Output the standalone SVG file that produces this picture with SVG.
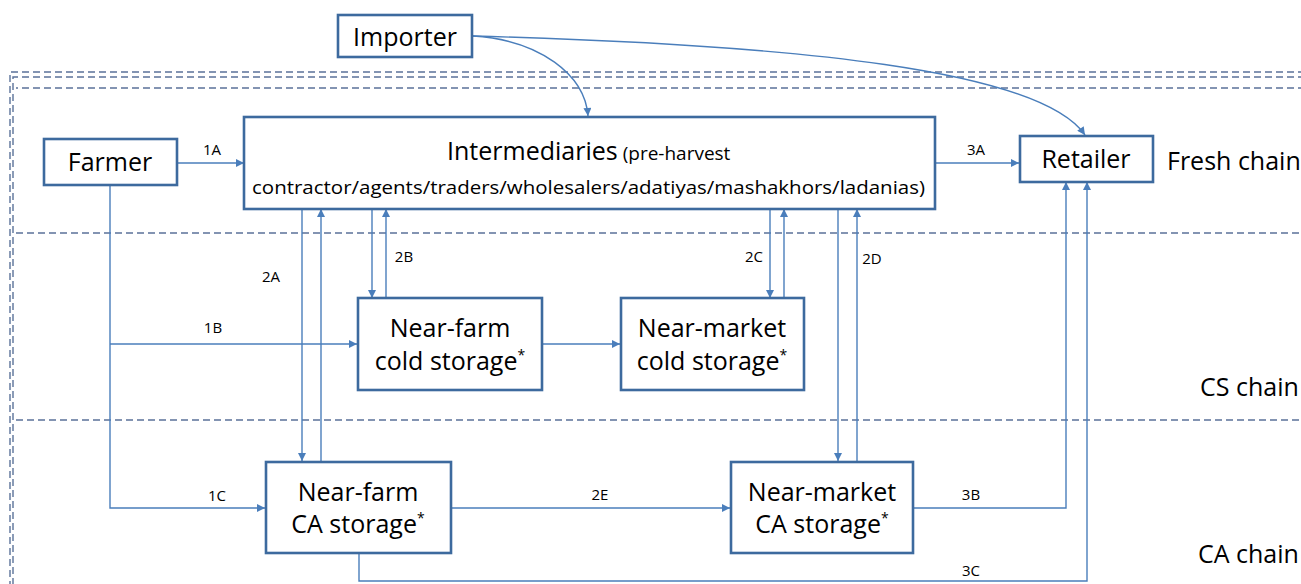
<svg xmlns="http://www.w3.org/2000/svg" width="1301" height="584" viewBox="0 0 1301 584">
  <defs>
    <marker id="arr" viewBox="0 0 10 10" refX="10" refY="5" markerWidth="9" markerHeight="8" markerUnits="userSpaceOnUse" orient="auto">
      <path d="M0,0 L10,5 L0,10 z" fill="#4a7ebb"/>
    </marker>
    <style>
      .box { fill: #ffffff; stroke: #3d6a9e; stroke-width: 2.6; }
      .conn { fill: none; stroke: #4a7ebb; stroke-width: 1.4; }
      .zone { fill: none; stroke: #5b7299; stroke-width: 1.4; stroke-dasharray: 7 4; }
      .lbl { font-family: "Open Sans", "Liberation Sans", sans-serif; fill: #000; }
      .node { font-size: 25px; text-anchor: middle; }
      .edge { font-size: 15px; text-anchor: middle; }
      .chain { font-size: 25px; }
      .sup { font-size: 14px; }
    </style>
  </defs>
  <rect width="1301" height="584" fill="#ffffff"/>

  <!-- chain zones -->
  <g id="zones">
    <path class="zone" d="M1305,72 H10 V590"/>
    <path class="zone" d="M1305,77 H13 V590"/>
    <path class="zone" d="M1305,88 H16"/>
    <path class="zone" d="M16,233 H1305"/>
    <path class="zone" d="M16,420 H1305"/>
    <text class="lbl chain" x="1167" y="170">Fresh chain</text>
    <text class="lbl chain" x="1200" y="396">CS chain</text>
    <text class="lbl chain" x="1198" y="563">CA chain</text>
  </g>

  <!-- connectors -->
  <g id="connectors">
    <path class="conn" d="M473,36 C540,40 585,75 588,116" marker-end="url(#arr)"/>
    <path class="conn" d="M473,36 C800,45 1040,70 1085,135" marker-end="url(#arr)"/>
    <path class="conn" d="M177,163 H244" marker-end="url(#arr)"/>
    <path class="conn" d="M935,163 H1019" marker-end="url(#arr)"/>
    <path class="conn" d="M302,209 V461" marker-end="url(#arr)"/>
    <path class="conn" d="M321,461 V209" marker-end="url(#arr)"/>
    <path class="conn" d="M372,209 V298" marker-end="url(#arr)"/>
    <path class="conn" d="M386,298 V209" marker-end="url(#arr)"/>
    <path class="conn" d="M770,209 V298" marker-end="url(#arr)"/>
    <path class="conn" d="M784,298 V209" marker-end="url(#arr)"/>
    <path class="conn" d="M838,209 V461" marker-end="url(#arr)"/>
    <path class="conn" d="M857,461 V209" marker-end="url(#arr)"/>
    <path class="conn" d="M110,185 V508 H265" marker-end="url(#arr)"/>
    <path class="conn" d="M110,344 H357" marker-end="url(#arr)"/>
    <path class="conn" d="M542,344 H620" marker-end="url(#arr)"/>
    <path class="conn" d="M451,508 H730" marker-end="url(#arr)"/>
    <path class="conn" d="M913,508 H1066 V182" marker-end="url(#arr)"/>
    <path class="conn" d="M359,553 V581 H1087 V182" marker-end="url(#arr)"/>
    <text class="lbl edge" x="212" y="155">1A</text>
    <text class="lbl edge" x="976" y="155">3A</text>
    <text class="lbl edge" x="271" y="282">2A</text>
    <text class="lbl edge" x="404" y="262">2B</text>
    <text class="lbl edge" x="754" y="262">2C</text>
    <text class="lbl edge" x="872" y="264">2D</text>
    <text class="lbl edge" x="213" y="333">1B</text>
    <text class="lbl edge" x="217" y="501">1C</text>
    <text class="lbl edge" x="600" y="500">2E</text>
    <text class="lbl edge" x="971" y="500">3B</text>
    <text class="lbl edge" x="971" y="576">3C</text>
  </g>

  <!-- nodes -->
  <g id="importer">
    <rect class="box" x="338" y="15" width="134" height="42"/>
    <text class="lbl node" x="405" y="46">Importer</text>
  </g>
  <g id="farmer">
    <rect class="box" x="44" y="139" width="133" height="46"/>
    <text class="lbl node" x="110" y="171">Farmer</text>
  </g>
  <g id="intermediaries">
    <rect class="box" x="244" y="117" width="691" height="92"/>
    <text class="lbl" x="447" y="160" font-size="25">Intermediaries<tspan font-size="19" dx="5">(pre-harvest</tspan></text>
    <text class="lbl" x="252" y="194" font-size="19" textLength="673" lengthAdjust="spacingAndGlyphs">contractor/agents/traders/wholesalers/adatiyas/mashakhors/ladanias)</text>
  </g>
  <g id="retailer">
    <rect class="box" x="1020" y="136" width="133" height="46"/>
    <text class="lbl node" x="1086" y="168">Retailer</text>
  </g>
  <g id="near-farm-cold">
    <rect class="box" x="358" y="298" width="184" height="92"/>
    <text class="lbl node" x="450" y="337">Near-farm</text>
    <text class="lbl node" x="450" y="370">cold storage<tspan class="sup" dy="-10">*</tspan></text>
  </g>
  <g id="near-market-cold">
    <rect class="box" x="621" y="298" width="183" height="92"/>
    <text class="lbl node" x="712" y="337">Near-market</text>
    <text class="lbl node" x="712" y="370">cold storage<tspan class="sup" dy="-10">*</tspan></text>
  </g>
  <g id="near-farm-ca">
    <rect class="box" x="266" y="462" width="185" height="91"/>
    <text class="lbl node" x="358" y="501">Near-farm</text>
    <text class="lbl node" x="358" y="533">CA storage<tspan class="sup" dy="-10">*</tspan></text>
  </g>
  <g id="near-market-ca">
    <rect class="box" x="731" y="462" width="182" height="91"/>
    <text class="lbl node" x="822" y="501">Near-market</text>
    <text class="lbl node" x="822" y="533">CA storage<tspan class="sup" dy="-10">*</tspan></text>
  </g>
</svg>
